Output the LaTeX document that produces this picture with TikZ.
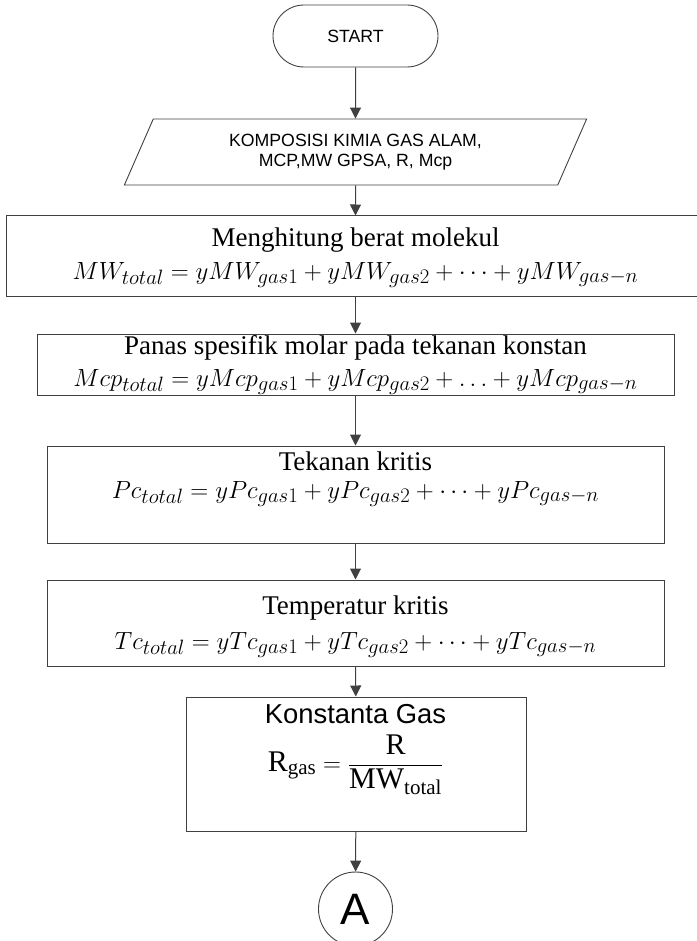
\documentclass[tikz,border=0pt]{standalone}
\usepackage{fontspec}
\setmainfont{Liberation Serif}
\setsansfont{Liberation Sans}
\usetikzlibrary{arrows.meta,shapes.geometric,shapes.misc}
\definecolor{FCLine}{HTML}{404040}

\begin{document}
\begin{tikzpicture}[x=1pt, y=-1pt,
  terminal/.style={rounded rectangle, draw=FCLine, line width=0.9pt, minimum width=165pt, minimum height=62pt, inner sep=0pt, font=\sffamily\fontsize{17.7}{20}\selectfont},
  io/.style={trapezium, trapezium left angle=63.4, trapezium right angle=116.6, trapezium stretches=true, draw=FCLine, line width=0.9pt, minimum width=464pt, minimum height=66pt, inner sep=0pt, align=center, font=\sffamily\fontsize{17.7}{20}\selectfont},
  proc/.style={rectangle, draw=FCLine, line width=1pt, inner sep=0pt},
  connector/.style={circle, draw=FCLine, line width=0.9pt, minimum size=74pt, inner sep=0pt, font=\sffamily\fontsize{44}{48}\selectfont},
  title/.style={anchor=base, inner sep=0pt, font=\fontsize{27}{30}\selectfont},
  formula/.style={anchor=base, inner sep=0pt, font=\fontsize{#1}{34}\selectfont},
  formula/.default=31,
  arrow/.style={-{Triangle[length=11pt,width=11pt]}, draw=FCLine, line width=1pt}
]
\useasboundingbox (0,0) rectangle (696,941);
\node[terminal] (start) at (355.5,36) {START};
\node[io] (input) at (355.5,152) {KOMPOSISI KIMIA GAS ALAM,\\MCP,MW GPSA, R, Mcp};
\node[proc, minimum width=699pt, minimum height=80pt] (mw) at (355.5,256) {};
\node[proc, minimum width=637pt, minimum height=61pt] (mcp) at (355.5,364.5) {};
\node[proc, minimum width=617pt, minimum height=97pt] (pc) at (355.5,494.5) {};
\node[proc, minimum width=617pt, minimum height=86pt] (tc) at (355.5,623) {};
\node[proc, minimum width=340pt, minimum height=134pt] (rgas) at (356,764) {};
\node[connector] (conA) at (355.5,909) {A};
% texts in the boxes
\node[title] (mwT) at (355.5,247) {Menghitung berat molekul};
\node[formula=30] (mwE) at (355.5,279) {$MW_{total} = yMW_{gas1} + yMW_{gas2} + \cdots + yMW_{gas-n}$};
\node[title] (mcpT) at (355.5,354) {Panas spesifik molar pada tekanan konstan};
\node[formula] (mcpE) at (355.5,386) {$Mcp_{total} = yMcp_{gas1} + yMcp_{gas2} + \ldots + yMcp_{gas-n}$};
\node[title] (pcT) at (355.5,470) {Tekanan kritis};
\node[formula] (pcE) at (355.5,498) {$Pc_{total} = yPc_{gas1} + yPc_{gas2} + \cdots + yPc_{gas-n}$};
\node[title] (tcT) at (355.5,614) {Temperatur kritis};
\node[formula] (tcE) at (355.5,649) {$Tc_{total} = yTc_{gas1} + yTc_{gas2} + \cdots + yTc_{gas-n}$};
\node[title, font=\sffamily\fontsize{27.4}{30}\selectfont] (rgasT) at (355.5,723) {Konstanta Gas};
\node[formula=30] (rgasE) at (355.5,771) {$\mathrm{R}_{\mathrm{gas}} = {\displaystyle\frac{\mathrm{R}}{\mathrm{MW}_{\mathrm{total}}}}$};
% flow
\draw[arrow] (start) -- (input);
\draw[arrow] (input) -- (mw);
\draw[arrow] (mw) -- (mcp);
\draw[arrow] (mcp) -- (pc);
\draw[arrow] (pc) -- (tc);
\draw[arrow] (tc) -- (rgas);
\draw[arrow] (rgas) -- (conA);
\end{tikzpicture}
\end{document}
